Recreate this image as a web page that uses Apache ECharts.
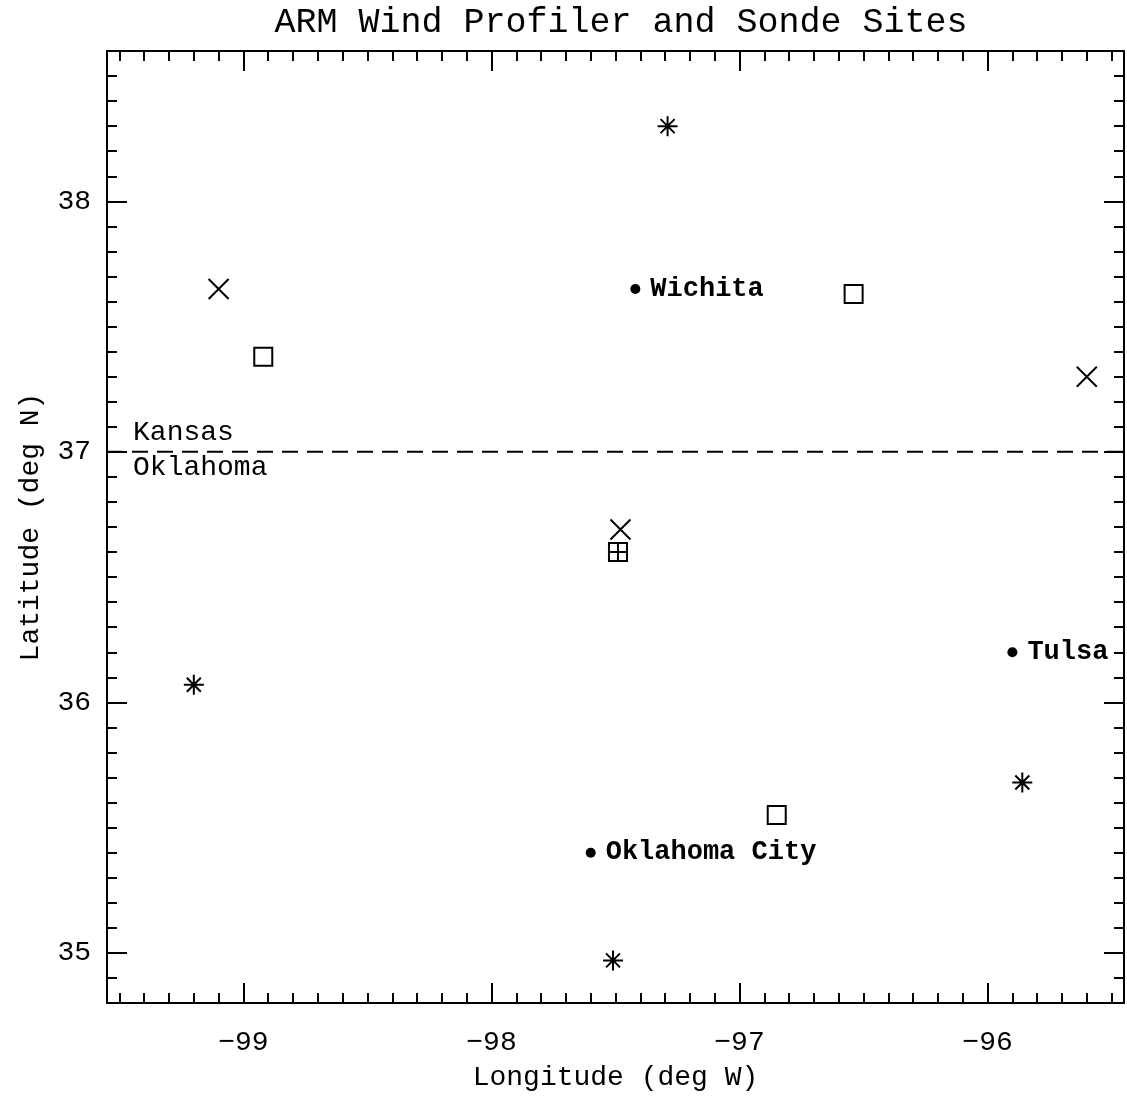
<!DOCTYPE html>
<html>
<head>
<meta charset="utf-8">
<script src="https://cdn.jsdelivr.net/npm/echarts@6/dist/echarts.min.js"></script>
<style>
html,body{margin:0;padding:0;background:#fff;}
#chart{width:1127px;height:1097px;}
</style>
</head>
<body>
<div id="chart"></div>
<script>
// ---- data (longitude, latitude) ----
const titleText = 'ARM Wind Profiler and Sonde Sites';
const xName = 'Longitude (deg W)';
const yName = 'Latitude (deg N)';
const xRange = [-99.55, -95.45];
const yRange = [34.8, 38.6];
const xTickLabels = [-99, -98, -97, -96];
const yTickLabels = [35, 36, 37, 38];

const asteriskSites = [[-97.29, 38.30], [-99.20, 36.07], [-95.86, 35.68], [-97.51, 34.97]];
const crossSites = [[-99.10, 37.65], [-95.60, 37.30], [-97.48, 36.69]];
const squareSites = [[-98.92, 37.38], [-96.54, 37.63], [-96.85, 35.55]];
const boxCrossSites = [[-97.49, 36.60]];
const cityNames = ['Wichita', 'Tulsa', 'Oklahoma City'];
const cityLons = [-97.42, -95.90, -97.60];
const cityLats = [37.65, 36.20, 35.40];
const borderLat = 37.0;
const stateNames = ['Kansas', 'Oklahoma'];
const stateLons = [-99.445, -99.445];
const stateLats = [37.077, 36.938];

// ---- chart ----
const FONT = 'Liberation Mono';
const chart = echarts.init(document.getElementById('chart'));

function fmt(list) {
  return function (v) {
    for (const t of list) if (Math.abs(v - t) < 1e-6) return String(t).replace('-', '\u2212');
    return '';
  };
}
function axisBase(pos, range, showLabels, labels, extra) {
  return Object.assign({
    type: 'value', position: pos, min: range[0], max: range[1],
    minInterval: 1, maxInterval: 1,
    axisLine: { show: true, onZero: false, lineStyle: { color: '#000', width: 2 } },
    axisTick: { show: true, inside: true, length: 20, lineStyle: { color: '#000', width: 2 } },
    minorTick: { show: true, splitNumber: 10, length: 10, lineStyle: { color: '#000', width: 2 } },
    splitLine: { show: false },
    axisLabel: {
      show: showLabels, formatter: fmt(labels), hideOverlap: false,
      color: '#000', fontFamily: FONT, fontSize: 28
    }
  }, extra || {});
}

const strokeStyle = { color: 'rgba(0,0,0,0)', borderColor: '#000', borderWidth: 2, opacity: 1 };
const asteriskPath = 'path://M10,0L10,20M0,10L20,10M3,3L17,17M17,3L3,17';
const crossPath = 'path://M0,0L20,20M20,0L0,20';
const boxCrossPath = 'path://M0,0L20,0L20,20L0,20ZM10,0L10,20M0,10L20,10';

chart.setOption({
  animation: false,
  backgroundColor: '#fff',
  title: {
    text: titleText, left: 616, top: 0, textAlign: 'center',
    textStyle: { fontFamily: FONT, fontSize: 35, fontWeight: 'normal', color: '#000' }
  },
  grid: { left: 107, right: 1, top: 51, bottom: 90, show: false },
  xAxis: [
    axisBase('bottom', xRange, true, xTickLabels, {
      name: xName, nameLocation: 'middle', nameGap: 61,
      nameTextStyle: { fontFamily: FONT, fontSize: 28, color: '#000' },
      axisLabel: { show: true, formatter: fmt(xTickLabels), hideOverlap: false, margin: 26,
        color: '#000', fontFamily: FONT, fontSize: 28 }
    }),
    axisBase('top', xRange, false, xTickLabels)
  ],
  yAxis: [
    axisBase('left', yRange, true, yTickLabels, {
      name: yName, nameLocation: 'middle', nameGap: 62, nameRotate: 90,
      nameTextStyle: { fontFamily: FONT, fontSize: 28, color: '#000' },
      axisLabel: { show: true, formatter: fmt(yTickLabels), hideOverlap: false, margin: 16,
        color: '#000', fontFamily: FONT, fontSize: 28 }
    }),
    axisBase('right', yRange, false, yTickLabels)
  ],
  series: [
    {
      type: 'line', data: [[xRange[0], borderLat], [xRange[1], borderLat]],
      symbol: 'none', lineStyle: { color: '#000', width: 2, type: [16, 9], opacity: 1 }, silent: true
    },
    { type: 'scatter', data: asteriskSites, symbol: asteriskPath, symbolSize: 20, itemStyle: strokeStyle },
    { type: 'scatter', data: crossSites, symbol: crossPath, symbolSize: 20, itemStyle: strokeStyle },
    { type: 'scatter', data: squareSites, symbol: 'rect', symbolSize: 18, itemStyle: { color: '#fff', borderColor: '#000', borderWidth: 2, opacity: 1 } },
    { type: 'scatter', data: boxCrossSites, symbol: boxCrossPath, symbolSize: 18, itemStyle: strokeStyle },
    {
      type: 'scatter', symbol: 'circle', symbolSize: 10, itemStyle: { color: '#000', opacity: 1 },
      data: cityNames.map((n, i) => ({ name: n, value: [cityLons[i], cityLats[i]] })),
      label: { show: true, position: 'right', distance: 10, formatter: '{b}',
        fontFamily: FONT, fontSize: 27, color: '#000', fontWeight: 'bold' }
    },
    {
      type: 'scatter', symbol: 'circle', symbolSize: 0, itemStyle: { color: 'rgba(0,0,0,0)', opacity: 1 },
      data: stateNames.map((n, i) => ({ name: n, value: [stateLons[i], stateLats[i]] })),
      label: { show: true, position: 'right', distance: 0, formatter: '{b}',
        fontFamily: FONT, fontSize: 28, color: '#000' }
    }
  ]
});
</script>
</body>
</html>
